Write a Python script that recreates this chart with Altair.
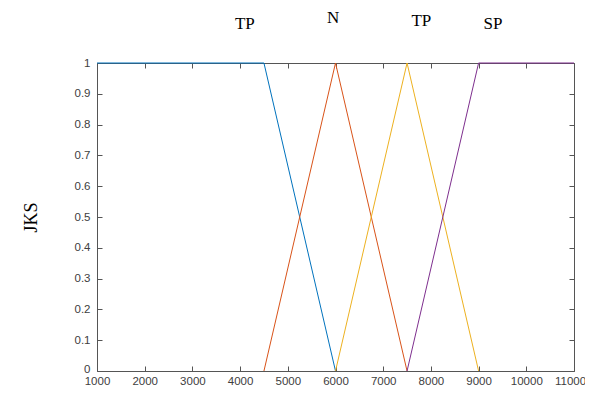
import altair as alt
import pandas as pd

# membership-function series
series = ["mf1", "mf2", "mf3", "mf4"]
series_x = [[1000, 4500, 6000], [4500, 6000, 7500], [6000, 7500, 9000], [7500, 9000, 11000]]
series_y = [[1, 1, 0], [0, 1, 0], [0, 1, 0], [0, 1, 1]]
colors = ["#0072BD", "#D95319", "#EDB120", "#7E2F8E"]

# labels above the plot
label_text = ["TP", "N", "TP", "SP"]
label_x = [4100, 5950, 7800, 9300]
label_y = [1.128, 1.145, 1.135, 1.128]

x_ticks = [1000, 2000, 3000, 4000, 5000, 6000, 7000, 8000, 9000, 10000, 11000]
y_ticks = [0, 0.1, 0.2, 0.3, 0.4, 0.5, 0.6, 0.7, 0.8, 0.9, 1]

rows = []
for s, xs, ys in zip(series, series_x, series_y):
    for i, (xv, yv) in enumerate(zip(xs, ys)):
        rows.append({"s": s, "x": xv, "y": yv, "o": i})
df = pd.DataFrame(rows)
lab = pd.DataFrame({"t": label_text, "x": label_x, "y": label_y})

W, H = 477, 308
xs_ = alt.Scale(domain=[1000, 11000], nice=False, zero=False)
ys_ = alt.Scale(domain=[0, 1], nice=False)
AX = dict(labelFont="Liberation Sans", labelFontSize=11.5, labelColor="#404040",
          domainColor="#555555", tickColor="#555555", grid=False)

lines = alt.Chart(df).mark_line(strokeWidth=1, clip=False).encode(
    x=alt.X("x:Q", scale=xs_, axis=alt.Axis(orient="bottom", values=x_ticks, ticks=False, format="d",
                                           labelPadding=4, title=None, labelFlush=False,
                                           labelOffset={"condition": {"test": "datum.value == 11000", "value": -4}, "value": 0},
                                           **AX)),
    y=alt.Y("y:Q", scale=ys_, axis=alt.Axis(orient="left", values=y_ticks, ticks=False, format="~g",
                                           labelPadding=7, title="JKS", titleFont="Liberation Serif",
                                           titleFontSize=18, titleFontWeight="normal", titleColor="#000000",
                                           titlePadding=34, labelFlush=False,
                                           labelOffset={"condition": {"test": "datum.value == 0", "value": -2}, "value": 0},
                                           **AX)),
    color=alt.Color("s:N", scale=alt.Scale(domain=series, range=colors), legend=None),
    order="o:Q",
)

ax2 = alt.Chart(df).mark_point(opacity=0).encode(
    x=alt.X("x:Q", scale=xs_, axis=alt.Axis(orient="top", offset=-H, values=x_ticks, labels=False,
                                           domain=False, tickSize=5, title=None, **AX)),
    y=alt.Y("y:Q", scale=ys_, axis=alt.Axis(orient="right", offset=-W, values=y_ticks, labels=False,
                                           domain=False, tickSize=5, title=None, **AX)),
)
ax3 = alt.Chart(df).mark_point(opacity=0).encode(
    x=alt.X("x:Q", scale=xs_, axis=alt.Axis(orient="bottom", offset=-H, values=x_ticks, labels=False,
                                           domain=True, tickSize=5, title=None, **AX)),
    y=alt.Y("y:Q", scale=ys_, axis=alt.Axis(orient="left", offset=-W, values=y_ticks, labels=False,
                                           domain=True, tickSize=5, title=None, **AX)),
)

texts = alt.Chart(lab).mark_text(font="Liberation Serif", fontSize=17, color="#000000",
                                 baseline="middle", clip=False).encode(
    x=alt.X("x:Q", scale=xs_, axis=None), y=alt.Y("y:Q", scale=ys_, axis=None), text="t:N")

chart = alt.layer(lines, ax2, ax3, texts).resolve_axis(x="independent", y="independent").properties(
    width=W, height=H,
    autosize=alt.AutoSizeParams(type="none"),
    padding={"left": 89, "top": 55, "right": 11, "bottom": 14},
).configure_view(stroke=None).configure(background="white")

chart.save("out.html", embed_options={"renderer": "svg", "actions": False})
